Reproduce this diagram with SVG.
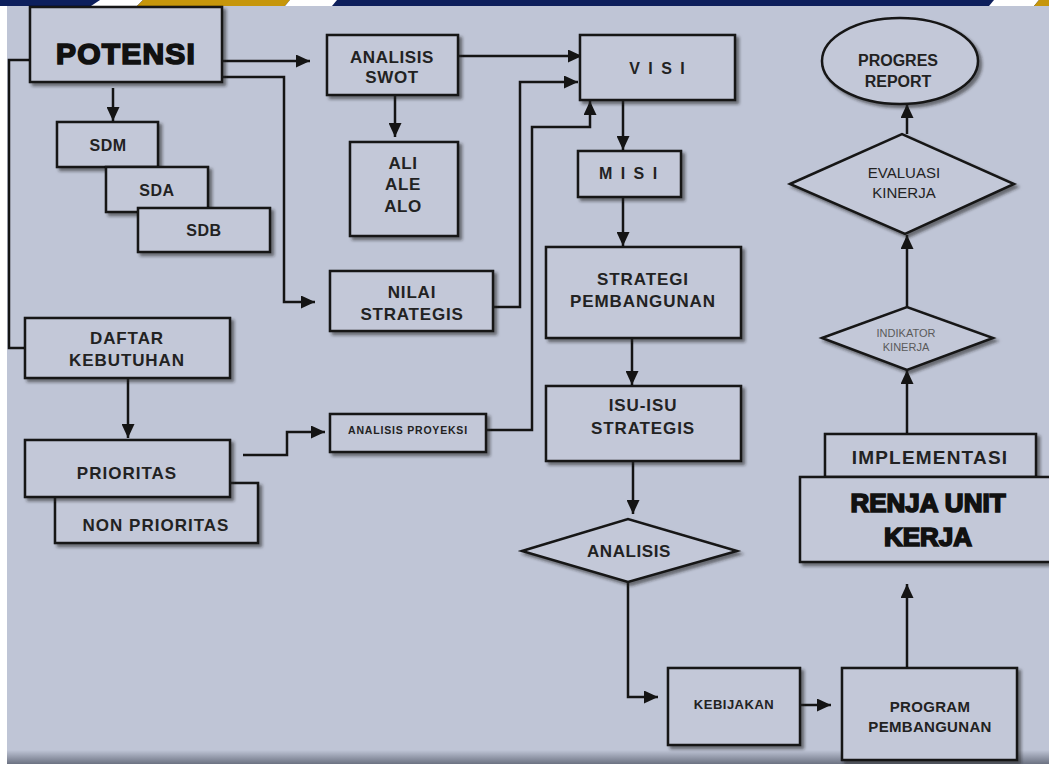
<svg xmlns="http://www.w3.org/2000/svg" width="1049" height="764" viewBox="0 0 1049 764">
<defs>
<style>
.box{fill:#C3C8D8;stroke:#161616;stroke-width:2.5;filter:url(#sh)}
.t{font-family:"Liberation Sans",Arial,sans-serif;font-weight:bold;fill:#222;text-anchor:middle}
.n{font-weight:normal}
.heavy{stroke:#111;stroke-width:1.7;fill:#111}
.c{fill:none;stroke:#141414;stroke-width:2.5}
.a{marker-end:url(#ah)}
</style>
<filter id="sh" x="-10%" y="-10%" width="130%" height="140%">
<feDropShadow dx="3" dy="3" stdDeviation="1.5" flood-color="#1a1a1a" flood-opacity="0.55"/>
</filter>
<marker id="ah" viewBox="0 0 14 13" refX="14" refY="6.5" markerWidth="14" markerHeight="13" markerUnits="userSpaceOnUse" orient="auto">
<path d="M0,0 L14,6.5 L0,13 z" fill="#141414"/>
</marker>
<linearGradient id="bot" x1="0" y1="0" x2="0" y2="1">
<stop offset="0" stop-color="#BFC5D6"/>
<stop offset="1" stop-color="#6C7282"/>
</linearGradient>
</defs>

<rect x="0" y="0" width="1049" height="764" fill="#FFFFFF"/>
<rect x="7" y="0" width="1042" height="764" fill="#BFC5D6"/>
<rect x="7" y="750" width="1042" height="14" fill="url(#bot)"/>
<!-- top bar -->
<rect x="0" y="0" width="1049" height="6" fill="#0D1F5C"/>
<polygon points="100,0 143,0 137,6 91,6" fill="#FFFFFF"/>
<polygon points="143,0 290,0 285,6 137,6" fill="#C6960B"/>
<polygon points="290,0 337,0 332,6 285,6" fill="#FFFFFF"/>
<polygon points="994,0 1039,0 1034,6 989,6" fill="#FFFFFF"/>
<polygon points="1039,0 1049,0 1049,6 1034,6" fill="#C6960B"/>

<g id="connectors">
<polyline class="c" points="30,60 9,60 9,348 25,348"/>
<polyline class="c a" points="222,61 310,61"/>
<polyline class="c a" points="222,77 284,77 284,302 315,302"/>
<polyline class="c a" points="113,88 113,121"/>
<polyline class="c a" points="395,95 395,137"/>
<polyline class="c a" points="458,56 582,56"/>
<polyline class="c a" points="493,307 520,307 520,82 578,82"/>
<polyline class="c a" points="486,430 532,430 532,127 590,127 590,101"/>
<polyline class="c a" points="623,100 623,150"/>
<polyline class="c a" points="623,197 623,246"/>
<polyline class="c a" points="632,338 632,385"/>
<polyline class="c a" points="633,461 633,514"/>
<polyline class="c a" points="628,582 628,697 658,697"/>
<polyline class="c a" points="800,705 831,705"/>
<polyline class="c a" points="907,668 907,584"/>
<polyline class="c a" points="907,434 907,370"/>
<polyline class="c a" points="907,307 907,235"/>
<polyline class="c a" points="907,134 907,104"/>
<polyline class="c a" points="243,455 287,455 287,432 325,432"/>
<polyline class="c a" points="128,378 128,438"/>
</g>

<g id="potensi">
<rect class="box" x="30" y="7" width="192" height="75"/>
<text class="t heavy" x="126" y="64" font-size="30" letter-spacing="1.2">POTENSI</text>
</g>
<g id="sdm">
<rect class="box" x="57" y="122" width="101" height="45"/>
<text class="t" x="108" y="151" font-size="16" letter-spacing="0.5">SDM</text>
</g>
<g id="sda">
<rect class="box" x="106" y="167" width="102" height="45"/>
<text class="t" x="157" y="196" font-size="16" letter-spacing="0.5">SDA</text>
</g>
<g id="sdb">
<rect class="box" x="138" y="208" width="132" height="44"/>
<text class="t" x="204" y="236" font-size="16" letter-spacing="0.5">SDB</text>
</g>
<g id="analisis-swot">
<rect class="box" x="327" y="35" width="131" height="60"/>
<text class="t" x="392" y="63" font-size="17" letter-spacing="0.6">ANALISIS</text>
<text class="t" x="392" y="83" font-size="17" letter-spacing="0.6">SWOT</text>
</g>
<g id="ali-ale-alo">
<rect class="box" x="350" y="142" width="108" height="94"/>
<text class="t" x="403" y="169" font-size="17" letter-spacing="0.6">ALI</text>
<text class="t" x="403" y="190" font-size="17" letter-spacing="0.6">ALE</text>
<text class="t" x="403" y="212" font-size="17" letter-spacing="0.6">ALO</text>
</g>
<g id="nilai-strategis">
<rect class="box" x="330" y="271" width="163" height="60"/>
<text class="t" x="412" y="298" font-size="17" letter-spacing="0.8">NILAI</text>
<text class="t" x="412" y="320" font-size="17" letter-spacing="0.8">STRATEGIS</text>
</g>
<g id="visi">
<rect class="box" x="580" y="35" width="155" height="65"/>
<text class="t" x="658" y="74" font-size="16" letter-spacing="2">V I S I</text>
</g>
<g id="misi">
<rect class="box" x="578" y="151" width="103" height="46"/>
<text class="t" x="629" y="179" font-size="16" letter-spacing="2">M I S I</text>
</g>
<g id="strategi-pembangunan">
<rect class="box" x="546" y="247" width="195" height="91"/>
<text class="t" x="643" y="285" font-size="17" letter-spacing="0.9">STRATEGI</text>
<text class="t" x="643" y="307" font-size="17" letter-spacing="0.9">PEMBANGUNAN</text>
</g>
<g id="isu-isu-strategis">
<rect class="box" x="546" y="386" width="195" height="75"/>
<text class="t" x="643" y="411" font-size="17" letter-spacing="0.9">ISU-ISU</text>
<text class="t" x="643" y="434" font-size="17" letter-spacing="0.9">STRATEGIS</text>
</g>
<g id="analisis-proyeksi">
<rect class="box" x="330" y="414" width="156" height="38"/>
<text class="t" x="408" y="434" font-size="10.5" letter-spacing="0.8">ANALISIS PROYEKSI</text>
</g>
<g id="daftar-kebutuhan">
<rect class="box" x="25" y="318" width="205" height="60"/>
<text class="t" x="127" y="344" font-size="17" letter-spacing="0.9">DAFTAR</text>
<text class="t" x="127" y="366" font-size="17" letter-spacing="0.9">KEBUTUHAN</text>
</g>
<g id="non-prioritas">
<rect class="box" x="55" y="483" width="203" height="60"/>
<text class="t" x="156" y="531" font-size="17" letter-spacing="1">NON PRIORITAS</text>
</g>
<g id="prioritas">
<rect class="box" x="25" y="440" width="205" height="57"/>
<text class="t" x="127" y="479" font-size="17" letter-spacing="1">PRIORITAS</text>
</g>
<g id="analisis">
<polygon class="box" points="522,551 628,519 737,551 628,582"/>
<text class="t" x="629" y="557" font-size="17" letter-spacing="0.6">ANALISIS</text>
</g>
<g id="kebijakan">
<rect class="box" x="668" y="668" width="132" height="77"/>
<text class="t" x="734" y="709" font-size="13" letter-spacing="0.5">KEBIJAKAN</text>
</g>
<g id="program-pembangunan">
<rect class="box" x="842" y="668" width="175" height="92"/>
<text class="t" x="930" y="712" font-size="15" letter-spacing="0.3">PROGRAM</text>
<text class="t" x="930" y="732" font-size="15" letter-spacing="0.3">PEMBANGUNAN</text>
</g>
<g id="implementasi">
<rect class="box" x="825" y="434" width="211" height="43"/>
<text class="t" x="930" y="464" font-size="19" letter-spacing="1.2">IMPLEMENTASI</text>
</g>
<g id="renja-unit-kerja">
<rect class="box" x="800" y="477" width="252" height="85"/>
<text class="t heavy" x="928" y="512" font-size="26">RENJA UNIT</text>
<text class="t heavy" x="928" y="546" font-size="26">KERJA</text>
</g>
<g id="indikator-kinerja">
<polygon class="box" points="822,338 907,307 993,338 907,370"/>
<text class="t n" x="906" y="337" font-size="11" style="fill:#5a5a5a">INDIKATOR</text>
<text class="t n" x="906" y="351" font-size="11" style="fill:#5a5a5a">KINERJA</text>
</g>
<g id="evaluasi-kinerja">
<polygon class="box" points="790,184 902,134 1014,184 905,234"/>
<text class="t n" x="904" y="178" font-size="15">EVALUASI</text>
<text class="t n" x="904" y="198" font-size="15">KINERJA</text>
</g>
<g id="progres-report">
<ellipse class="box" cx="900" cy="61" rx="78" ry="43"/>
<text class="t" x="898" y="66" font-size="16">PROGRES</text>
<text class="t" x="898" y="87" font-size="16">REPORT</text>
</g>
</svg>
